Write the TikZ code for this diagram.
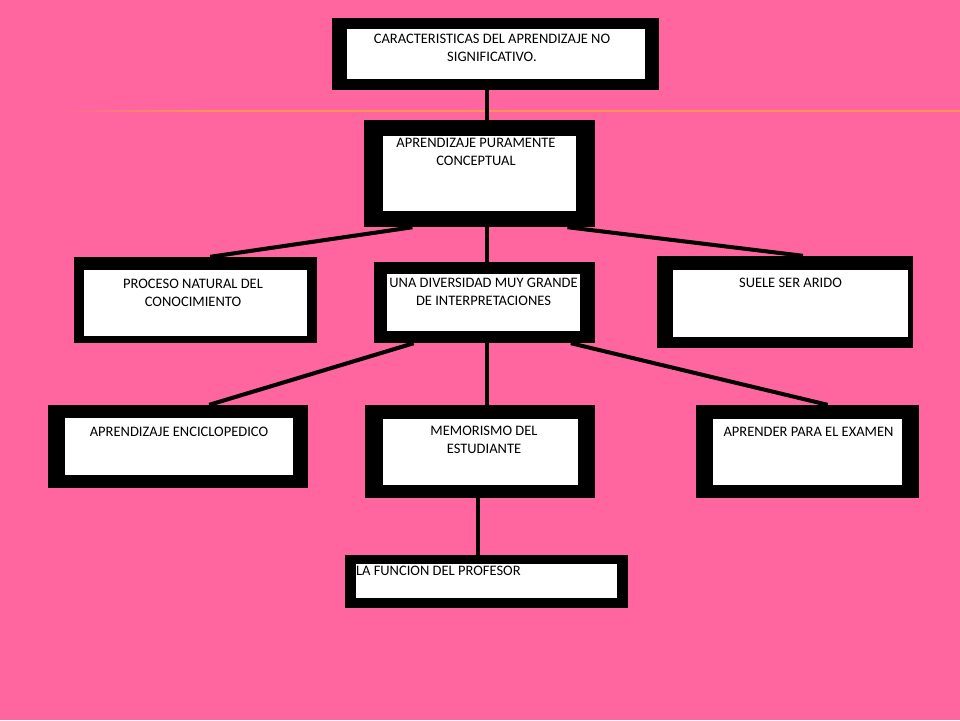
\documentclass[tikz,border=0pt]{standalone}
\usepackage{fontspec}
\setmainfont{Carlito}
\usetikzlibrary{positioning, calc, backgrounds}
\definecolor{Backdrop}{RGB}{255,102,160}
\definecolor{Rule}{RGB}{247,150,80}
\definecolor{LinkShade}{RGB}{170,50,100}

\begin{document}
\begin{tikzpicture}[x=1pt, y=1pt,
        Frame/.style={rectangle, fill=black, inner sep=0pt},
        Card/.style={rectangle, fill=white, inner sep=0pt},
        Caption/.style={align=center, inner sep=0pt, font=\fontsize{14.5}{17.5}\selectfont},
        Link/.style={line width=4pt, preaction={draw=LinkShade, transform canvas={shift={(0.8pt,-1.6pt)}}}},
        Stem/.style={line width=4pt}
    ]
    \useasboundingbox (0,0) rectangle (960,-720);

    % Top concept
    \node (TOP) [Frame, minimum width=327pt, minimum height=72pt] at (495.5,-54) {};
    \node (TOP_IN) [Card, minimum width=298pt, minimum height=50pt] at (496,-54) {};
    \node [Caption, below=5.5pt of TOP_IN.north, xshift=-4pt] {CARACTERISTICAS DEL APRENDIZAJE NO\\SIGNIFICATIVO.};

    % Second level
    \node (PURA) [Frame, minimum width=231pt, minimum height=107pt] at (479.5,-173.5) {};
    \node (PURA_IN) [Card, minimum width=193pt, minimum height=75pt] at (479.5,-173.5) {};
    \node [Caption, below=2.5pt of PURA_IN.north, xshift=-3.5pt] {APRENDIZAJE PURAMENTE\\CONCEPTUAL};

    % Third level
    \node (PROC) [Frame, minimum width=243pt, minimum height=86pt] at (195.5,-300) {};
    \node (PROC_IN) [Card, minimum width=223pt, minimum height=66pt] at (195.5,-303) {};
    \node [Caption, below=9.5pt of PROC_IN.north, xshift=-2.5pt] {PROCESO NATURAL DEL\\CONOCIMIENTO};

    \node (DIVER) [Frame, minimum width=221pt, minimum height=81pt] at (484.5,-302.5) {};
    \node (DIVER_IN) [Card, minimum width=193pt, minimum height=57pt] at (483.5,-302.5) {};
    \node [Caption, below=4.5pt of DIVER_IN.north] {UNA DIVERSIDAD MUY GRANDE\\DE INTERPRETACIONES};

    \node (ARIDO) [Frame, minimum width=256pt, minimum height=92pt] at (785,-302) {};
    \node (ARIDO_IN) [Card, minimum width=235pt, minimum height=67pt] at (790.5,-303.5) {};
    \node [Caption, below=8.5pt of ARIDO_IN.north] {SUELE SER ARIDO};

    % Fourth level
    \node (ENCI) [Frame, minimum width=260pt, minimum height=83pt] at (178,-446.5) {};
    \node (ENCI_IN) [Card, minimum width=228pt, minimum height=57pt] at (179,-446.5) {};
    \node [Caption, below=9.5pt of ENCI_IN.north] {APRENDIZAJE ENCICLOPEDICO};

    \node (MEMO) [Frame, minimum width=230pt, minimum height=93pt] at (480,-451.5) {};
    \node (MEMO_IN) [Card, minimum width=195pt, minimum height=66pt] at (480.5,-452) {};
    \node [Caption, below=7.5pt of MEMO_IN.north, xshift=3.5pt] {MEMORISMO DEL\\ESTUDIANTE};

    \node (EXAM) [Frame, minimum width=223pt, minimum height=93pt] at (807.5,-451.5) {};
    \node (EXAM_IN) [Card, minimum width=189pt, minimum height=66pt] at (807.5,-452) {};
    \node [Caption, below=8.5pt of EXAM_IN.north, xshift=1pt] {APRENDER PARA EL EXAMEN};

    % Bottom concept
    \node (PROF) [Frame, minimum width=283pt, minimum height=53pt] at (486.5,-581.5) {};
    \node (PROF_IN) [Card, minimum width=261pt, minimum height=34pt] at (486.5,-581) {};
    \node [Caption, below right=2.5pt and 0pt of PROF_IN.north west] {LA FUNCION DEL PROFESOR};

    % Spines for the straight connectors
    \coordinate (SPINE) at (487,0);
    \coordinate (STEM) at (478,0);

    \begin{scope}[on background layer]
        \fill[Backdrop] (0,0) rectangle (960,-720);
        % the orange rule across the page
        \shade[left color=Backdrop, right color=Rule] (62,-110.2) rectangle (200,-111.8);
        \fill[Rule] (200,-110.2) rectangle (960,-111.8);

        \draw[Stem] (TOP.south -| SPINE) -- (PURA.north -| SPINE);
        \draw[Stem] (PURA.south -| SPINE) -- (DIVER.north -| SPINE);
        \draw[Stem] (DIVER.south -| SPINE) -- (MEMO.north -| SPINE);
        \draw[Stem] (MEMO.south -| STEM) -- (PROF.north -| STEM);

        \draw[Link] ($(PURA.south west)!0.21!(PURA.south east)$) -- ($(PROC.north west)!0.56!(PROC.north east)$);
        \draw[Link] ($(PURA.south west)!0.88!(PURA.south east)$) -- ($(ARIDO.north west)!0.57!(ARIDO.north east)$);
        \draw[Link] ($(DIVER.south west)!0.18!(DIVER.south east)$) -- ($(ENCI.north west)!0.62!(ENCI.north east)$);
        \draw[Link] ($(DIVER.south west)!0.89!(DIVER.south east)$) -- ($(EXAM.north west)!0.59!(EXAM.north east)$);
    \end{scope}

\end{tikzpicture}
\end{document}
